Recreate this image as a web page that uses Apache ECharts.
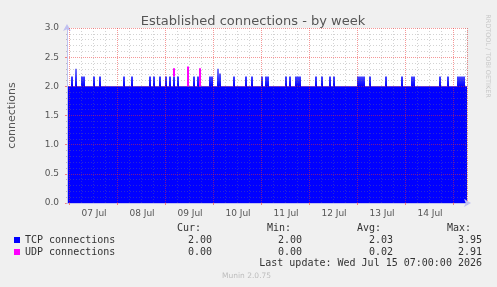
<!DOCTYPE html>
<html><head><meta charset="utf-8">
<script src="https://cdn.jsdelivr.net/npm/echarts@6/dist/echarts.min.js"></script>
<style>html,body{margin:0;padding:0;background:#f0f0f0;}#c{width:497px;height:287px;}</style>
</head><body><div id="c"></div>
<script>
// hourly samples starting 2026-07-06 23:00
const startTime = Date.UTC(2026, 6, 6, 23, 0);
const stepMs = 60 * 60 * 1000;
const sampleCount = 200;
const dayLabels = ['07 Jul', '08 Jul', '09 Jul', '10 Jul', '11 Jul', '12 Jul', '13 Jul', '14 Jul'];
const yTicks = [0, 0.5, 1.0, 1.5, 2.0, 2.5, 3.0];

const tcpValues = [
  2,2,2.17,2,2.3,2,2,2.17,2.17,2,2,2,
  2,2.17,2,2,2.17,2,2,2,2,2,2,2,
  2,2,2,2,2.17,2,2,2,2.17,2,2,2,
  2,2,2,2,2,2.17,2,2.17,2,2,2.17,2,
  2,2.17,2,2.17,2,2.17,2,2.17,2,2,2,2,
  2,2,2,2.17,2,2.17,2,2,2,2,2,2.17,
  2.17,2,2,2.3,2.22,2,2,2,2,2,2,2.17,
  2,2,2,2,2,2.17,2,2,2.17,2,2,2,
  2,2.17,2,2.17,2.17,2,2,2,2,2,2,2,
  2,2.17,2,2.17,2,2,2.17,2.17,2.17,2,2,2,
  2,2,2,2,2.17,2,2,2.17,2,2,2,2.17,
  2,2.17,2,2,2,2,2,2,2,2,2,2,
  2,2.17,2.17,2.17,2.17,2,2,2.17,2,2,2,2,
  2,2,2,2.17,2,2,2,2,2,2,2,2.17,
  2,2,2,2,2.17,2.17,2,2,2,2,2,2,
  2,2,2,2,2,2,2.17,2,2,2,2.17,2,
  2,2,2,2.17,2.17,2.17,2.17,2
];

const udpValues = [
  0,0,0,0,0,0,0,0,0,0,0,0,
  0,0,0,0,0,0,0,0,0,0,0,0,
  0,0,0,0,0,0,0,0,0,0,0,0,
  0,0,0,0,0,0,0,0,0,0,0,0,
  0,0,0,0,0,0.14,0,0,0,0,0,0,
  0.34,0,0,0,0,0,0.31,0,0,0,0,0,
  0,0,0,0,0,0,0,0,0,0,0,0,
  0,0,0,0,0,0,0,0,0,0,0,0,
  0,0,0,0,0,0,0,0,0,0,0,0,
  0,0,0,0,0,0,0,0,0,0,0,0,
  0,0,0,0,0,0,0,0,0,0,0,0,
  0,0,0,0,0,0,0,0,0,0,0,0,
  0,0,0,0,0,0,0,0,0,0,0,0,
  0,0,0,0,0,0,0,0,0,0,0,0,
  0,0,0,0,0,0,0,0,0,0,0,0,
  0,0,0,0,0,0,0,0,0,0,0,0,
  0,0,0,0,0,0,0,0
];

const statHeaders = ['Cur:', 'Min:', 'Avg:', 'Max:'];
const tcpStats = ['2.00', '2.00', '2.03', '3.95'];
const udpStats = ['0.00', '0.00', '0.02', '2.91'];
const lastUpdate = 'Last update: Wed Jul 15 07:00:00 2026';

const categories = [];
for (let i = 0; i < sampleCount; i++) {
  const d = new Date(startTime + i * stepMs);
  categories.push(d.toISOString().slice(0, 16));
}
const isMidnight = (i) => !!categories[i] && categories[i].slice(11, 16) === '00:00';
const isNoon = (i) => !!categories[i] && categories[i].slice(11, 16) === '12:00';
const isSixHour = (i) => !!categories[i] && /(06|12|18):00$/.test(categories[i]);
const dayIndexOf = (i) => {
  let n = 0;
  for (let k = 0; k < i; k++) if (isNoon(k)) n++;
  return n;
};

const mono = 'DejaVu Sans Mono';
const sans = 'DejaVu Sans';
const chart = echarts.init(document.getElementById('c'), null, {renderer: 'canvas'});

const graphics = [];
const headX = [177, 267, 357, 447];
const valX = [212, 302, 393, 482];
statHeaders.forEach((h, k) => {
  graphics.push({type: 'text', x: headX[k], y: 228, style: {text: h, font: '10px "' + mono + '"', fill: '#333', verticalAlign: 'middle'}});
});
[tcpStats, udpStats].forEach((row, r) => {
  row.forEach((v, k) => {
    graphics.push({type: 'text', x: valX[k], y: 240 + r * 12, style: {text: v, font: '10px "' + mono + '"', fill: '#333', align: 'right', verticalAlign: 'middle'}});
  });
});
graphics.push({type: 'text', x: 482, y: 263, style: {text: lastUpdate, font: '10px "' + mono + '"', fill: '#333', align: 'right', verticalAlign: 'middle'}});
graphics.push({type: 'text', x: 222, y: 276, style: {text: 'Munin 2.0.75', font: '7.5px "' + sans + '"', fill: '#bdbdbd', verticalAlign: 'middle'}});
graphics.push({type: 'text', x: 488, y: 56, rotation: -Math.PI / 2, style: {text: 'RRDTOOL / TOBI OETIKER', font: '6.5px "' + sans + '"', fill: '#c8c8c8', align: 'center', verticalAlign: 'middle'}});

const redGrid = 'rgba(235,50,50,0.5)';
const grayGrid = 'rgba(120,120,120,0.33)';

chart.setOption({
  animation: false,
  backgroundColor: '#f0f0f0',
  title: {
    text: 'Established connections - by week',
    left: 248, top: 10, textAlign: 'center',
    textStyle: {fontFamily: sans, fontSize: 13, fontWeight: 'normal', color: '#555'}
  },
  legend: {
    orient: 'vertical', left: 14, top: 234, padding: 0, itemGap: 0,
    itemWidth: 6, itemHeight: 6, icon: 'rect',
    textStyle: {fontFamily: mono, fontSize: 10, color: '#333', lineHeight: 12},
    data: [
      {name: 'TCP connections', itemStyle: {color: '#0000ff'}},
      {name: 'UDP connections', itemStyle: {color: '#ff00ff'}}
    ]
  },
  grid: {left: 67, right: 30, top: 28, bottom: 84, show: true, backgroundColor: '#fff', borderWidth: 0, outerBoundsMode: 'none', containLabel: false},
  xAxis: [{
    type: 'category', data: categories, boundaryGap: true, z: 6,
    axisLine: {show: true, lineStyle: {color: '#c0c0f0'}, symbol: ['none', 'arrow'], symbolSize: [6, 7], symbolOffset: [0, 4]},
    axisTick: {show: true, interval: (i) => isMidnight(i), length: 2, lineStyle: {color: '#f08080'}},
    axisLabel: {interval: (i) => isNoon(i), formatter: (v, i) => dayLabels[dayIndexOf(i)], fontFamily: sans, fontSize: 9, color: '#555', margin: 6},
    splitLine: {show: true, interval: (i) => isMidnight(i), lineStyle: {color: redGrid, type: [1, 1], width: 1}}
  }, {
    type: 'category', data: categories, boundaryGap: true, z: 4, position: 'bottom',
    axisLine: {show: false}, axisTick: {show: false}, axisLabel: {show: false},
    splitLine: {show: true, interval: (i) => isSixHour(i) && !isMidnight(i), lineStyle: {color: grayGrid, type: [1, 2], width: 1}}
  }],
  yAxis: {
    type: 'value', min: 0, max: 3, interval: 0.5, z: 5,
    name: 'connections', nameLocation: 'middle', nameGap: 49, nameRotate: 90,
    nameTextStyle: {fontFamily: sans, fontSize: 11, color: '#555'},
    axisLine: {show: true, lineStyle: {color: '#c0c0f0'}, symbol: ['none', 'arrow'], symbolSize: [6, 7], symbolOffset: [0, 4]},
    axisTick: {show: true, length: 2, lineStyle: {color: '#f08080'}},
    minorTick: {show: true, splitNumber: 5, length: 1, lineStyle: {color: '#bbb'}},
    axisLabel: {formatter: (v) => v.toFixed(1), fontFamily: sans, fontSize: 9, color: '#555', margin: 8},
    splitLine: {show: true, lineStyle: {color: redGrid, type: [1, 1], width: 1}},
    minorSplitLine: {show: true, lineStyle: {color: grayGrid, type: [1, 2], width: 1}}
  },
  series: [{
    name: 'TCP connections', type: 'bar', stack: 'total', barCategoryGap: '0%', barWidth: '100%',
    data: tcpValues, itemStyle: {color: '#0000ff'}
  }, {
    name: 'UDP connections', type: 'bar', stack: 'total', barCategoryGap: '0%', barWidth: '100%',
    data: udpValues, itemStyle: {color: '#ff00ff'}
  }],
  graphic: graphics
});

// fade the spikes above the 2.0 level like the rrd rendering, using the axis scale
const yBase = chart.convertToPixel({yAxisIndex: 0}, 2.0);
const yTop = chart.convertToPixel({yAxisIndex: 0}, 2.32);
chart.setOption({
  series: [{
    name: 'TCP connections',
    itemStyle: {color: new echarts.graphic.LinearGradient(0, yTop, 0, yBase, [
      {offset: 0, color: '#8080ff'}, {offset: 1, color: '#0000ff'}], true)}
  }]
});
</script></body></html>
